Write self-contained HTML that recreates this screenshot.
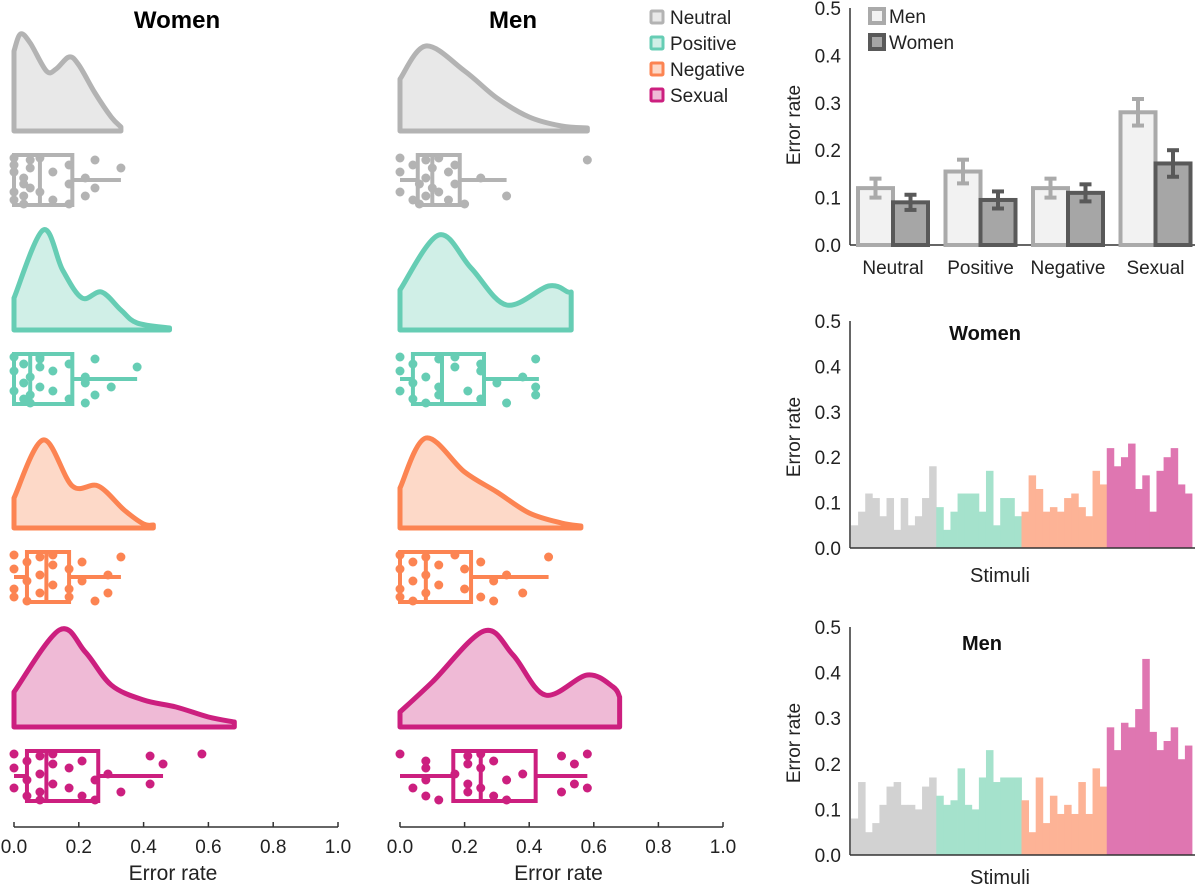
<!DOCTYPE html>
<html><head><meta charset="utf-8"><style>
body{margin:0;background:#fff;}
svg{display:block;font-family:"Liberation Sans",sans-serif;}
</style></head><body>
<svg id="fig" width="1200" height="886" viewBox="0 0 1200 886" xmlns="http://www.w3.org/2000/svg">
<text x="177" y="28" font-size="24" font-weight="bold" text-anchor="middle">Women</text>
<text x="513" y="28" font-size="24" font-weight="bold" text-anchor="middle">Men</text>
<g id="legend"></g>
<g id="raincloud"></g>
<g id="bars"></g>
<g id="hist"></g>
</svg>
<script>
const NS="http://www.w3.org/2000/svg";
const categories=["Neutral","Positive","Negative","Sexual"];
const strokeCol=["#b3b3b3","#66cdb4","#fc8452","#cc1f7f"];
const fillCol=["#e8e8e8","#d0efe7","#fdd9c8","#efbad6"];
const histCol=["#d2d2d2","#a5e2cc","#fdb396","#df76b1"];

// densities: [error rate, relative density]
const densWomen=[
 [[0,0.8],[0.02,0.97],[0.05,0.88],[0.1,0.6],[0.13,0.62],[0.17,0.74],[0.2,0.66],[0.25,0.38],[0.3,0.14],[0.33,0.04]],
 [[0,0.32],[0.09,1.0],[0.15,0.6],[0.21,0.32],[0.27,0.38],[0.33,0.2],[0.38,0.07],[0.48,0.02]],
 [[0,0.3],[0.09,0.88],[0.18,0.42],[0.26,0.42],[0.34,0.18],[0.4,0.04],[0.43,0.03]],
 [[0,0.35],[0.14,0.97],[0.22,0.75],[0.3,0.42],[0.4,0.27],[0.5,0.2],[0.6,0.1],[0.68,0.05]]
];
const densMen=[
 [[0,0.52],[0.08,0.85],[0.2,0.6],[0.3,0.33],[0.4,0.14],[0.5,0.05],[0.58,0.03]],
 [[0,0.4],[0.12,0.95],[0.22,0.62],[0.33,0.25],[0.46,0.44],[0.52,0.38],[0.53,0.38]],
 [[0,0.4],[0.08,0.9],[0.2,0.56],[0.3,0.36],[0.4,0.15],[0.5,0.05],[0.56,0.02]],
 [[0,0.15],[0.1,0.45],[0.26,0.96],[0.35,0.72],[0.45,0.32],[0.58,0.52],[0.66,0.4],[0.68,0.3]]
];
// box stats: [q1, median, q3, whiskerLow, whiskerHigh]
const boxWomen=[[0,0.08,0.18,0,0.33],[0,0.05,0.18,0,0.38],[0.04,0.1,0.17,0,0.33],[0.04,0.1,0.26,0,0.46]];
const boxMen=[[0.055,0.1,0.185,0,0.33],[0.04,0.13,0.26,0,0.43],[0,0.08,0.22,0,0.46],[0.165,0.25,0.42,0,0.58]];
const ptsWomen=[
 [0,0,0,0,0,0.03,0.03,0.03,0.03,0.05,0.05,0.05,0.08,0.08,0.12,0.12,0.17,0.17,0.17,0.22,0.22,0.25,0.25,0.33],
 [0,0,0,0.03,0.03,0.03,0.05,0.05,0.05,0.08,0.08,0.08,0.08,0.12,0.12,0.17,0.17,0.22,0.22,0.22,0.25,0.25,0.3,0.38],
 [0,0,0,0,0.04,0.04,0.04,0.08,0.08,0.08,0.12,0.12,0.12,0.17,0.17,0.17,0.21,0.21,0.25,0.29,0.29,0.33],
 [0,0,0,0.04,0.04,0.04,0.08,0.08,0.08,0.08,0.12,0.12,0.12,0.17,0.17,0.21,0.21,0.25,0.25,0.29,0.33,0.42,0.42,0.46,0.58]
];
const ptsMen=[
 [0,0,0,0.04,0.04,0.06,0.06,0.08,0.08,0.08,0.1,0.1,0.12,0.12,0.15,0.15,0.17,0.17,0.2,0.25,0.33,0.58],
 [0,0,0,0.04,0.04,0.04,0.08,0.08,0.12,0.12,0.12,0.17,0.17,0.21,0.25,0.25,0.25,0.3,0.33,0.38,0.42,0.42,0.42],
 [0,0,0,0,0.04,0.04,0.04,0.08,0.08,0.08,0.12,0.12,0.17,0.2,0.2,0.25,0.25,0.29,0.29,0.33,0.38,0.46],
 [0,0.04,0.08,0.08,0.08,0.08,0.12,0.17,0.21,0.21,0.21,0.21,0.25,0.25,0.25,0.29,0.29,0.33,0.33,0.38,0.5,0.5,0.54,0.54,0.58,0.58]
];
const rcTicks=["0.0","0.2","0.4","0.6","0.8","1.0"];

const meanMen=[0.12,0.155,0.12,0.28];
const errMen=[0.02,0.025,0.02,0.028];
const meanWomen=[0.09,0.095,0.11,0.172];
const errWomen=[0.016,0.018,0.018,0.028];
const yTicks=["0.0","0.1","0.2","0.3","0.4","0.5"];

const stimWomen=[0.05,0.08,0.12,0.11,0.07,0.11,0.04,0.11,0.05,0.07,0.11,0.18,
 0.09,0.04,0.08,0.12,0.12,0.12,0.08,0.17,0.05,0.11,0.11,0.07,
 0.08,0.16,0.13,0.08,0.09,0.08,0.11,0.12,0.09,0.07,0.17,0.14,
 0.22,0.18,0.2,0.23,0.13,0.16,0.08,0.17,0.2,0.22,0.14,0.12];
const stimMen=[0.08,0.16,0.05,0.07,0.11,0.15,0.16,0.11,0.11,0.1,0.15,0.17,
 0.13,0.11,0.12,0.19,0.11,0.1,0.17,0.23,0.16,0.17,0.17,0.17,
 0.12,0.05,0.17,0.07,0.13,0.09,0.11,0.09,0.16,0.09,0.19,0.15,
 0.28,0.23,0.29,0.28,0.32,0.43,0.27,0.23,0.25,0.28,0.21,0.24];

function mk(tag,attrs,parent,txt){const e=document.createElementNS(NS,tag);for(const k in attrs)e.setAttribute(k,attrs[k]);if(txt!==undefined)e.textContent=txt;parent.appendChild(e);return e;}

// legend
const lg=document.getElementById('legend');
categories.forEach((c,i)=>{
 const y=17+i*26;
 const r=mk('rect',{x:651,y:y-6,width:12,height:12,fill:fillCol[i],stroke:strokeCol[i],'stroke-width':3,rx:1},lg);
 
 
 const t=mk('text',{x:670,y:y+7,'font-size':19,fill:'#222'},lg,c);
 
 
});

// raincloud
const rc=document.getElementById('raincloud');
const baselines=[131,330,528,727];
const boxCenters=[180,379,577,776];
function smoothPath(pts){
 let d=`M${pts[0][0]},${pts[0][1]}`;
 for(let i=0;i<pts.length-1;i++){
  const p0=pts[Math.max(i-1,0)],p1=pts[i],p2=pts[i+1],p3=pts[Math.min(i+2,pts.length-1)];
  const c1=[p1[0]+(p2[0]-p0[0])/6,p1[1]+(p2[1]-p0[1])/6];
  const c2=[p2[0]-(p3[0]-p1[0])/6,p2[1]-(p3[1]-p1[1])/6];
  d+=` C${c1[0]},${c1[1]} ${c2[0]},${c2[1]} ${p2[0]},${p2[1]}`;
 }
 return d;
}
function panel(x0,x1,dens,boxes,pts,tag){
 const sx=v=>x0+v*(x1-x0);
 categories.forEach((c,i)=>{
  const b=baselines[i];
  const P=dens[i].map(p=>[sx(p[0]),b-p[1]*100]);
  const last=P[P.length-1];
  const d=`M${sx(0)},${b} L`+smoothPath(P).slice(1)+` L${last[0]},${b} Z`;
  const p=mk('path',{d:d,fill:fillCol[i],stroke:strokeCol[i],'stroke-width':5,'stroke-linejoin':'round'},rc);
  
  
  const bx=boxes[i],cy=boxCenters[i];
  const g=mk('g',{},rc);
  
  
  mk('line',{x1:sx(bx[3]),x2:sx(bx[0]),y1:cy,y2:cy,stroke:strokeCol[i],'stroke-width':4},g);
  mk('line',{x1:sx(bx[2]),x2:sx(bx[4]),y1:cy,y2:cy,stroke:strokeCol[i],'stroke-width':4},g);
  mk('rect',{x:sx(bx[0]),y:cy-25,width:sx(bx[2])-sx(bx[0]),height:50,fill:'none',stroke:strokeCol[i],'stroke-width':4},g);
  mk('line',{x1:sx(bx[1]),x2:sx(bx[1]),y1:cy-25,y2:cy+25,stroke:strokeCol[i],'stroke-width':4},g);
  const jit=[-22,12,-8,20,-15,4,24,-2,16,-20,8,-12];
  pts[i].forEach((v,k)=>{
   const ci=mk('circle',{cx:sx(v),cy:cy+jit[k%jit.length],r:4.5,fill:strokeCol[i]},g);
   
   
  });
 });
 const ax=mk('line',{x1:sx(0),x2:sx(1),y1:827,y2:827,stroke:'#333','stroke-width':1.5},rc);
 
 
 rcTicks.forEach((t,k)=>{
  const x=sx(k/5);
  mk('line',{x1:x,x2:x,y1:822,y2:827,stroke:'#333','stroke-width':1.5},rc);
  const tt=mk('text',{x:x,y:853,'font-size':19,'text-anchor':'middle',fill:'#222'},rc,t);
  
  
 });
 const xt=mk('text',{x:(sx(0)+sx(1))/2-3,y:880,'font-size':21,'text-anchor':'middle',fill:'#222'},rc,'Error rate');
 
 
}
panel(14,338,densWomen,boxWomen,ptsWomen,'women');
panel(400,723,densMen,boxMen,ptsMen,'men');

// bar chart
const bg=document.getElementById('bars');
const by=v=>245-v*(245-8)/0.5;
function yaxis(g,x,y0,y1,labelY){
 mk('line',{x1:x,x2:x,y1:y1,y2:y0,stroke:'#333','stroke-width':1.5},g);
 mk('line',{x1:x,x2:1195,y1:y0,y2:y0,stroke:'#333','stroke-width':1.5},g);
 yTicks.forEach((t,k)=>{
  const y=y0-k*(y0-y1)/5;
  const tt=mk('text',{x:841,y:y+7,'font-size':19,'text-anchor':'end',fill:'#222'},g,t);
  
  
 });
 const yt=mk('text',{x:0,y:0,'font-size':19,'text-anchor':'middle',fill:'#222',transform:`translate(800,${labelY}) rotate(-90)`},g,'Error rate');
 
 
}
yaxis(bg,850,245,8,125);
categories.forEach((c,i)=>{
 const gx=858+i*87.5;
 const m=mk('rect',{x:gx,y:by(meanMen[i]),width:35,height:245-by(meanMen[i]),fill:'#f2f2f2',stroke:'#aaaaaa','stroke-width':4},bg);
 
 
 const w=mk('rect',{x:gx+35,y:by(meanWomen[i]),width:35,height:245-by(meanWomen[i]),fill:'#a6a6a6',stroke:'#595959','stroke-width':4},bg);
 
 
 [[gx+17.5,meanMen[i],errMen[i],'#aaaaaa'],[gx+52.5,meanWomen[i],errWomen[i],'#595959']].forEach(e=>{
  const eg=mk('g',{stroke:e[3],'stroke-width':4},bg);
  
  
  mk('line',{x1:e[0],x2:e[0],y1:by(e[1]-e[2]),y2:by(e[1]+e[2])},eg);
  mk('line',{x1:e[0]-6,x2:e[0]+6,y1:by(e[1]-e[2]),y2:by(e[1]-e[2])},eg);
  mk('line',{x1:e[0]-6,x2:e[0]+6,y1:by(e[1]+e[2]),y2:by(e[1]+e[2])},eg);
 });
 const cl=mk('text',{x:gx+35,y:274,'font-size':19,'text-anchor':'middle',fill:'#222'},bg,c);
 
 
});
[['Men','#f2f2f2','#aaaaaa',16],['Women','#a6a6a6','#595959',42]].forEach(l=>{
 const r=mk('rect',{x:870,y:l[3]-7,width:14,height:14,fill:l[1],stroke:l[2],'stroke-width':4},bg);
 
 
 const t=mk('text',{x:889,y:l[3]+7,'font-size':19,fill:'#222'},bg,l[0]);
 
 
});

// histograms
const hg=document.getElementById('hist');
function hist(vals,y0,y1,title,titleX,titleY,stimY,labelY,tag){
 const g=mk('g',{},hg);
 
 
 const bw=(1192-851)/vals.length;
 const sy=v=>y0-v*(y0-y1)/0.5;
 vals.forEach((v,k)=>{
  const r=mk('rect',{x:851+k*bw,y:sy(v),width:bw+0.4,height:y0-sy(v),fill:histCol[Math.floor(k/12)]},g);
  
  
 });
 yaxis(g,850,y0,y1,labelY);
 const t=mk('text',{x:titleX,y:titleY,'font-size':20,'font-weight':'bold','text-anchor':'middle',fill:'#111'},g,title);
 
 
 const s=mk('text',{x:1000,y:stimY,'font-size':20,'text-anchor':'middle',fill:'#222'},g,'Stimuli');
 
 
}
hist(stimWomen,548,321,'Women',985,340,582,437,'women');
hist(stimMen,855,627,'Men',982,650,884,743,'men');
</script>
</body></html>
